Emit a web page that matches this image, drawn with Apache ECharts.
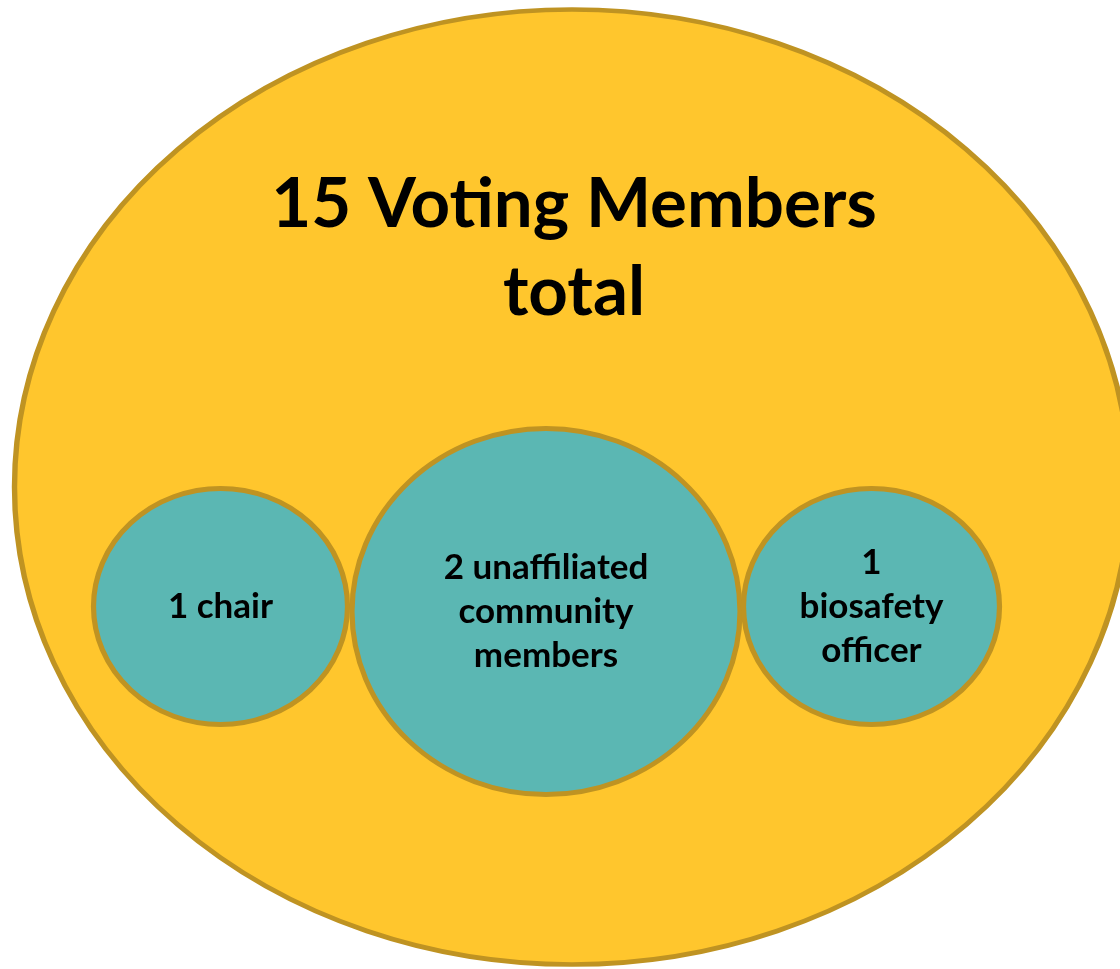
<!DOCTYPE html>
<html>
<head>
<meta charset="utf-8">
<script src="https://cdn.jsdelivr.net/npm/echarts@6/dist/echarts.min.js"></script>
<style>
html,body{margin:0;padding:0;background:#ffffff;}
#chart{width:1120px;height:969px;}
</style>
</head>
<body>
<div id="chart"></div>
<script>
// ---- data ----
const members = ['1 chair', '2 unaffiliated\ncommunity\nmembers', '1\nbiosafety\nofficer'];
const memberCounts = [1, 2, 1];
const totalCount = 15;
const totalLabel = totalCount + ' Voting Members\ntotal';

// ---- styles ----
const circleSizes = [[254, 236], [388, 366], [256, 236]];
const circleOffsets = [[0, 0], [0, 5], [0, 0]];
const totalSize = [1115, 955];
const totalOffset = [26, -119.5];
const yellow = '#FFC62D';
const teal = '#5BB7B3';
const rim = '#BF9322';

const chart = echarts.init(document.getElementById('chart'), null, {renderer: 'canvas'});
chart.setOption({
  animation: false,
  backgroundColor: '#ffffff',
  graphic: [{
    type: 'text',
    z: 10,
    silent: true,
    x: 574,
    y: 161,
    style: {
      text: totalLabel,
      align: 'center',
      verticalAlign: 'top',
      fontFamily: 'Lato',
      fontWeight: 'bold',
      fontSize: 69,
      lineHeight: 88,
      fill: '#000000'
    }
  }],
  grid: {left: 57.75, right: 85.75, top: 0, bottom: 362.5, containLabel: false},
  xAxis: {type: 'category', data: members, show: false, boundaryGap: true},
  yAxis: {type: 'value', min: 0, max: 1, show: false},
  series: [
    {
      name: 'total',
      type: 'scatter',
      z: 1,
      clip: false,
      silent: true,
      symbol: 'circle',
      symbolSize: totalSize,
      symbolOffset: totalOffset,
      itemStyle: {color: yellow, borderColor: rim, borderWidth: 5, opacity: 1},
      label: {show: false},
      data: [{value: [1, 0], name: totalLabel, count: totalCount}]
    },
    {
      name: 'members',
      type: 'scatter',
      z: 2,
      clip: false,
      silent: true,
      symbol: 'circle',
      itemStyle: {color: teal, borderColor: rim, borderWidth: 5, opacity: 1},
      label: {
        show: true,
        position: 'inside',
        formatter: p => p.name,
        fontFamily: 'Lato',
        fontWeight: 'bold',
        fontSize: 35,
        lineHeight: 44,
        color: '#000000',
        align: 'center'
      },
      data: members.map((m, i) => ({
        value: [i, 0, memberCounts[i]],
        name: m,
        symbolSize: circleSizes[i],
        symbolOffset: circleOffsets[i]
      }))
    }
  ]
});
</script>
</body>
</html>
